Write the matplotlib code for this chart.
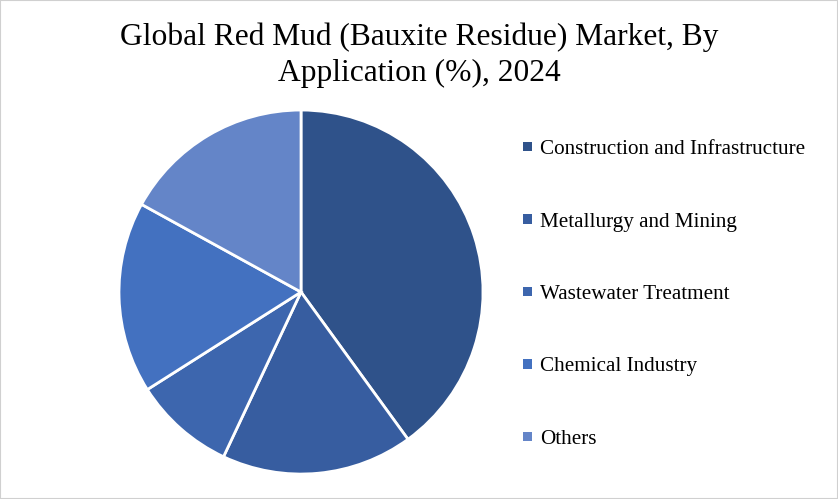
import matplotlib
matplotlib.use("Agg")
import matplotlib.pyplot as plt
from matplotlib.patches import Rectangle

# ==========================================
# Data
# ==========================================

categories = [
    "Construction and Infrastructure",
    "Metallurgy and Mining",
    "Wastewater Treatment",
    "Chemical Industry",
    "Others",
]
shares = [40, 17, 9, 17, 17]
colors = ["#2F528A", "#375DA0", "#3D66AE", "#4371C0", "#6485C8"]

title = "Global Red Mud (Bauxite Residue) Market, By\nApplication (%), 2024"

# ==========================================
# Figure
# ==========================================

fig = plt.figure(figsize=(8.38, 4.99), dpi=100)
fig.patches.append(Rectangle((0, 0), 1, 1, transform=fig.transFigure,
                             fill=False, edgecolor="#d0d0d0", linewidth=1.5))

ax = fig.add_axes([0.142, 0.050, 0.4344, 0.7295])
wedges, _ = ax.pie(
    shares,
    colors=colors,
    startangle=90,
    counterclock=False,
    wedgeprops={"edgecolor": "white", "linewidth": 2},
)
ax.set_xlim(-1.0, 1.0)
ax.set_ylim(-1.0, 1.0)
ax.set_aspect("equal")

fig.text(0.5, 0.955, title, ha="center", va="top", fontsize=22.7,
         family="Liberation Serif", linespacing=1.3)

leg = fig.legend(
    wedges,
    categories,
    loc="upper left",
    bbox_to_anchor=(0.602, 0.757),
    frameon=False,
    prop={"family": "Liberation Serif", "size": 15.2},
    handlelength=0.4,
    handleheight=0.32,
    handletextpad=0.4,
    labelspacing=2.53,
)
for h in leg.legend_handles:
    h.set_linewidth(0)

plt.savefig("out.png", dpi=100)
